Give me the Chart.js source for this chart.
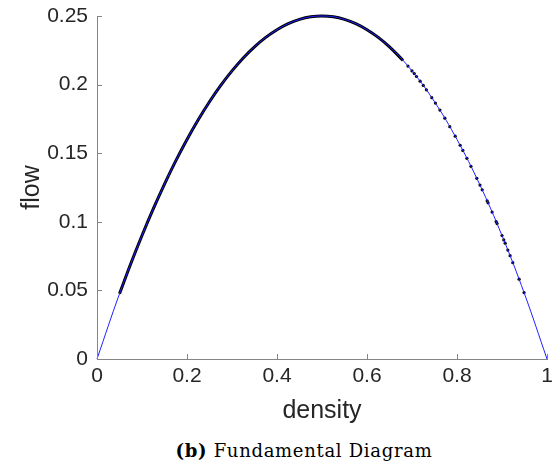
<!DOCTYPE html>
<html>
<head>
<meta charset="utf-8">
<script src="https://cdn.jsdelivr.net/npm/chart.js@4"></script>
<style>
  html, body { margin: 0; padding: 0; background: #fff; }
  #wrap { position: relative; width: 559px; height: 473px; }
  #chart { position: absolute; left: 0; top: 0; }
  #caption {
    position: absolute; left: 0; width: 608px; top: 440px;
    text-align: center; font-family: "DejaVu Serif", serif; font-size: 18px;
    letter-spacing: 0.7px; color: #000;
  }
</style>
</head>
<body>
<div id="wrap">
  <canvas id="chart" width="559" height="430"></canvas>
  <div id="caption"><b>(b)</b> Fundamental Diagram</div>
</div>
<script>
  "use strict";

  // model curve (thin blue line)
  const curveDensity = [0, 0.05, 0.1, 0.15, 0.2, 0.25, 0.3, 0.35, 0.4, 0.45, 0.5,
    0.55, 0.6, 0.65, 0.7, 0.75, 0.8, 0.85, 0.9, 0.95, 1];
  const curveFlow = [0, 0.0475, 0.09, 0.1275, 0.16, 0.1875, 0.21, 0.2275, 0.24, 0.2475, 0.25,
    0.2475, 0.24, 0.2275, 0.21, 0.1875, 0.16, 0.1275, 0.09, 0.0475, 0];

  // observed data, dense part (looks like a thick black line)
  const denseDensity = [0.05, 0.075, 0.1, 0.125, 0.15, 0.175, 0.2, 0.225, 0.25, 0.275, 0.3,
    0.325, 0.35, 0.375, 0.4, 0.425, 0.45, 0.475, 0.5, 0.525, 0.55, 0.575, 0.6, 0.625, 0.65, 0.68];
  const denseFlow = [0.0475, 0.0694, 0.09, 0.1094, 0.1275, 0.1444, 0.16, 0.1744, 0.1875, 0.1994, 0.21,
    0.2194, 0.2275, 0.2344, 0.24, 0.2444, 0.2475, 0.2494, 0.25, 0.2494, 0.2475, 0.2444, 0.24, 0.2344, 0.2275, 0.2176];

  // observed data, sparse dots at high density
  const sparseDensity = [0.691, 0.7, 0.705, 0.71, 0.718, 0.725, 0.732, 0.744, 0.752, 0.762, 0.773,
    0.784, 0.796, 0.807, 0.813, 0.822, 0.831, 0.844, 0.851, 0.856, 0.867, 0.869, 0.878, 0.887,
    0.889, 0.9, 0.904, 0.907, 0.913, 0.918, 0.924, 0.938, 0.949];
  const sparseFlow = [0.2135, 0.21, 0.208, 0.2059, 0.2025, 0.1994, 0.1962, 0.1905, 0.1865, 0.1814, 0.1755,
    0.1693, 0.1624, 0.1558, 0.152, 0.1463, 0.1404, 0.1317, 0.1268, 0.1233, 0.1153, 0.1138, 0.1071, 0.1002,
    0.0987, 0.09, 0.0868, 0.0844, 0.0794, 0.0753, 0.0702, 0.0582, 0.0484];

  const xTicks = [0, 0.2, 0.4, 0.6, 0.8, 1];
  const yTicks = [0, 0.05, 0.1, 0.15, 0.2, 0.25];

  function toPoints(xs, ys) {
    return xs.map((x, i) => ({ x: x, y: ys[i] }));
  }

  const axisColor = "#858585";
  const textColor = "#262626";

  // MATLAB style inward ticks
  const innerTicks = {
    id: "innerTicks",
    afterDraw(chart) {
      const ctx = chart.ctx;
      const xs = chart.scales.x;
      const ys = chart.scales.y;
      ctx.save();
      ctx.strokeStyle = axisColor;
      ctx.lineWidth = 1;
      ctx.beginPath();
      xTicks.forEach((v) => {
        const px = Math.round(xs.getPixelForValue(v)) + 0.5;
        ctx.moveTo(px, ys.bottom);
        ctx.lineTo(px, ys.bottom - 5);
      });
      yTicks.forEach((v) => {
        const py = Math.round(ys.getPixelForValue(v)) + 0.5;
        ctx.moveTo(xs.left, py);
        ctx.lineTo(xs.left + 5, py);
      });
      ctx.stroke();
      ctx.restore();
    },
  };

  const ctx = document.getElementById("chart").getContext("2d");
  const chart = new Chart(ctx, {
    type: "scatter",
    data: {
      datasets: [
        {
          data: toPoints(sparseDensity, sparseFlow),
          showLine: false,
          pointRadius: 1.6,
          pointBackgroundColor: "#000",
          pointBorderWidth: 0,
          order: 3,
          clip: 4,
        },
        {
          data: toPoints(denseDensity, denseFlow),
          showLine: true,
          borderColor: "#000",
          borderWidth: 3,
          tension: 0.4,
          pointRadius: 0,
          order: 2,
          clip: 4,
        },
        {
          data: toPoints(curveDensity, curveFlow),
          showLine: true,
          borderColor: "#1f1fff",
          borderWidth: 1,
          tension: 0.4,
          pointRadius: 0,
          order: 1,
          clip: 4,
        },
      ],
    },
    options: {
      responsive: false,
      animation: false,
      layout: { padding: { top: 16, right: 12, left: 0, bottom: 0 } },
      plugins: {
        legend: { display: false },
        tooltip: { enabled: false },
      },
      scales: {
        x: {
          type: "linear",
          min: 0,
          max: 1,
          afterBuildTicks: (s) => { s.ticks = xTicks.map((v) => ({ value: v })); },
          afterFit: (s) => { s.height = 71; s.paddingLeft = 0; s.paddingRight = 0; },
          grid: { display: false, drawTicks: false },
          border: { display: true, color: axisColor, width: 1 },
          ticks: {
            padding: 5,
            color: textColor,
            font: { family: "Liberation Sans", size: 21 },
            callback: (v) => String(v),
            maxRotation: 0,
          },
          title: {
            display: true,
            text: "density",
            color: textColor,
            font: { family: "Liberation Sans", size: 25 },
            padding: { top: 2 },
          },
        },
        y: {
          type: "linear",
          min: 0,
          max: 0.25,
          afterBuildTicks: (s) => { s.ticks = yTicks.map((v) => ({ value: v })); },
          afterFit: (s) => { s.width = 97; s.paddingTop = 0; s.paddingBottom = 0; },
          grid: { display: false, drawTicks: false },
          border: { display: true, color: axisColor, width: 1 },
          ticks: {
            padding: 9,
            color: textColor,
            font: { family: "Liberation Sans", size: 21 },
            callback: (v) => String(v),
          },
          title: {
            display: true,
            text: "flow",
            color: textColor,
            font: { family: "Liberation Sans", size: 25 },
            padding: { top: 17, bottom: 0 },
          },
        },
      },
    },
    plugins: [innerTicks],
  });
</script>
</body>
</html>
